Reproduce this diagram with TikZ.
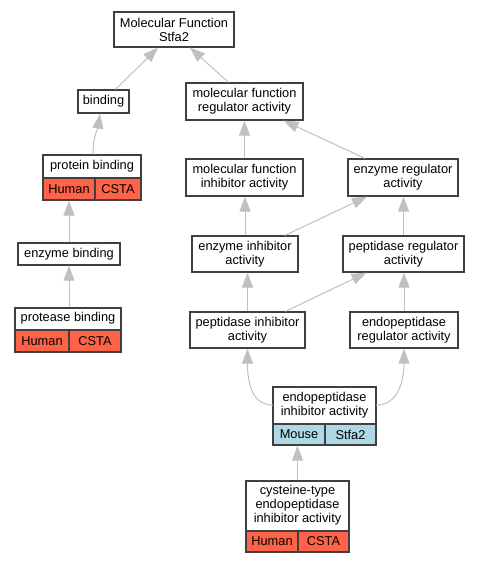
\documentclass[tikz,border=0pt]{standalone}
\usepackage{fontspec}
\setmainfont{Liberation Sans}
\usetikzlibrary{arrows.meta}
\definecolor{edgegray}{HTML}{C0C0C0}
\definecolor{bordergray}{HTML}{404040}
\definecolor{humanc}{HTML}{FF6347}
\definecolor{mousec}{HTML}{ADD8E6}
\begin{document}
\begin{tikzpicture}[x=1pt,y=-1pt,
  box/.style={draw=bordergray, line width=1.2pt, fill=white, inner sep=0pt, align=center, font=\fontsize{12.8}{14}\selectfont},
  cell/.style={box},
  lbl/.style={inner sep=0pt, align=center, font=\fontsize{12.8}{14}\selectfont},
  edge/.style={draw=edgegray, line width=1pt, -{Triangle[length=15pt,width=11pt]}}]
\useasboundingbox (0,0) rectangle (480,563);
% plain nodes
\node[box, minimum width=120pt, minimum height=35pt] (mf) at (174,29.5) {Molecular Function\\Stfa2};
\node[box, minimum width=51pt, minimum height=23pt] (binding) at (103.5,101.5) {binding};
\node[box, minimum width=117pt, minimum height=37pt] (mfr) at (244.5,101.5) {molecular function\\regulator activity};
\node[box, minimum width=117pt, minimum height=37pt] (mfi) at (244.5,177.5) {molecular function\\inhibitor activity};
\node[box, minimum width=110pt, minimum height=37pt] (era) at (403,177.5) {enzyme regulator\\activity};
\node[box, minimum width=102pt, minimum height=22pt] (eb) at (69,254) {enzyme binding};
\node[box, minimum width=106pt, minimum height=36pt] (eia) at (245,254) {enzyme inhibitor\\activity};
\node[box, minimum width=121pt, minimum height=36pt] (pra) at (403.5,254) {peptidase regulator\\activity};
\node[box, minimum width=115pt, minimum height=36pt] (pia) at (247.5,330) {peptidase inhibitor\\activity};
\node[box, minimum width=108pt, minimum height=36pt] (epra) at (404,330) {endopeptidase\\regulator activity};
% record: protein binding
\node[box, minimum width=98pt, minimum height=45pt] (pb) at (92,177.5) {};
\node[lbl, anchor=north, minimum width=98pt, minimum height=23pt] (pbt) at (pb.north) {protein binding};
\node[cell, fill=humanc, anchor=south west, minimum width=52pt, minimum height=22pt] (pbh) at (pb.south west) {Human};
\node[cell, fill=humanc, anchor=south east, minimum width=46pt, minimum height=22pt] (pbc) at (pb.south east) {CSTA};
% record: protease binding
\node[box, minimum width=106pt, minimum height=44pt] (prb) at (68,330) {};
\node[lbl, anchor=north, minimum width=106pt, minimum height=22pt] (prbt) at (prb.north) {protease binding};
\node[cell, fill=humanc, anchor=south west, minimum width=54pt, minimum height=22pt] (prbh) at (prb.south west) {Human};
\node[cell, fill=humanc, anchor=south east, minimum width=52pt, minimum height=22pt] (prbc) at (prb.south east) {CSTA};
% record: endopeptidase inhibitor activity
\node[box, minimum width=103pt, minimum height=58pt] (epia) at (324.5,416) {};
\node[lbl, anchor=north, minimum width=103pt, minimum height=37pt] (epiat) at (epia.north) {endopeptidase\\inhibitor activity};
\node[cell, fill=mousec, anchor=south west, minimum width=52pt, minimum height=21pt] (epiam) at (epia.south west) {Mouse};
\node[cell, fill=mousec, anchor=south east, minimum width=51pt, minimum height=21pt] (epias) at (epia.south east) {Stfa2};
% record: cysteine-type
\node[box, minimum width=103pt, minimum height=71pt] (cys) at (297.5,516.5) {};
\node[lbl, anchor=north, minimum width=103pt, minimum height=50pt] (cyst) at (cys.north) {cysteine-type\\endopeptidase\\inhibitor activity};
\node[cell, fill=humanc, anchor=south west, minimum width=52pt, minimum height=21pt] (cysh) at (cys.south west) {Human};
\node[cell, fill=humanc, anchor=south east, minimum width=51pt, minimum height=21pt] (cysc) at (cys.south east) {CSTA};
% edges
\draw[edge] ([xshift=12pt]binding.north) -- ([xshift=-16pt]mf.south);
\draw[edge] ([xshift=-16pt]mfr.north) -- ([xshift=16pt]mf.south);
\draw[edge] ([xshift=1pt]pb.north) .. controls +(0,-18) and +(-2,14) .. ([xshift=-3.5pt]binding.south);
\draw[edge] (eb.north) -- (eb.north |- pb.south);
\draw[edge] ([xshift=1pt]prb.north) -- (eb.south);
\draw[edge] (mfi.north) -- (mfr.south);
\draw[edge] ([xshift=-38pt]era.north) -- ([xshift=39pt]mfr.south);
\draw[edge] (eia.north) -- (eia.north |- mfi.south);
\draw[edge] ([xshift=40pt]eia.north) -- ([xshift=-36pt]era.south);
\draw[edge] (pra.north) -- (pra.north |- era.south);
\draw[edge] (pia.north) -- (pia.north |- eia.south);
\draw[edge] ([xshift=38pt]pia.north) -- ([xshift=-37pt]pra.south);
\draw[edge] (epra.north) -- (epra.north |- pra.south);
\draw[edge] (epiat.west) .. controls +(-22,0) and +(0,32) .. (pia.south);
\draw[edge] (epiat.east) .. controls +(22,0) and +(0,32) .. (epra.south);
\draw[edge] (cys.north) -- (cys.north |- epia.south);
\end{tikzpicture}
\end{document}
